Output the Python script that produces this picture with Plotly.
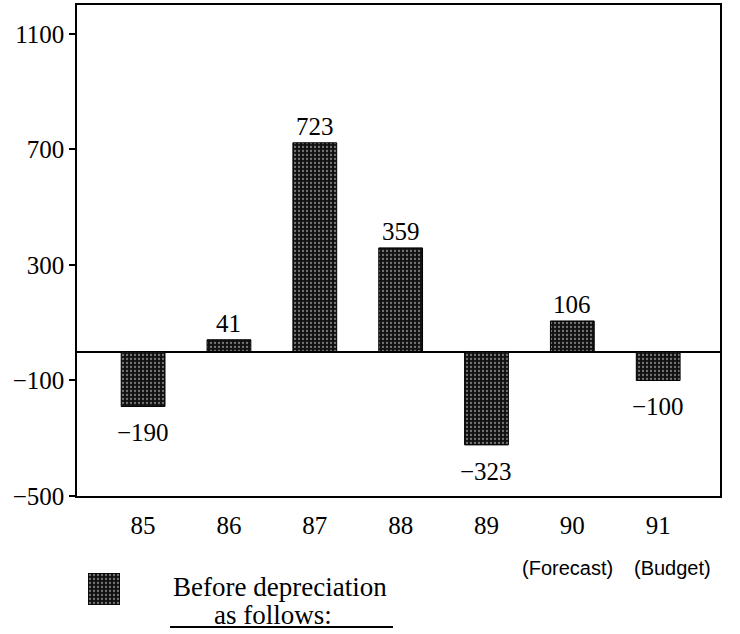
import plotly.graph_objects as go

years = ["85", "86", "87", "88", "89", "90", "91"]
values = [-190, 41, 723, 359, -323, 106, -100]
y_ticks = [-500, -100, 300, 700, 1100]
notes = ["(Forecast)", "(Budget)"]
legend_lines = ["Before depreciation", "as follows:"]

serif = "Liberation Serif, Times New Roman, serif"
sans = "Liberation Sans, Arial, sans-serif"

def fmt(v):
    return str(v).replace("-", "\u2212")

pattern = dict(shape=".", fgcolor="#dddddd", bgcolor="#111111", size=4, solidity=0.25, fillmode="overlay")

fig = go.Figure()
fig.add_trace(go.Bar(
    x=list(range(len(years))), y=values, width=0.51,
    marker=dict(color="#111111", line=dict(color="black", width=1), pattern=pattern),
    showlegend=False, xaxis="x", yaxis="y",
))
# legend swatch
fig.add_trace(go.Bar(
    x=[0], y=[1], width=1,
    marker=dict(color="#111111", line=dict(color="black", width=1), pattern=pattern),
    showlegend=False, xaxis="x2", yaxis="y2", hoverinfo="skip",
))

# value labels
for i, v in enumerate(values):
    fig.add_annotation(
        x=i, y=v, xref="x", yref="y", text=fmt(v), showarrow=False,
        xanchor="center", yanchor="bottom" if v >= 0 else "top",
        yshift=1 if v >= 0 else -11,
        font=dict(family=serif, size=25, color="black"),
    )

W, H = 740, 634
l, r, t, b = 77, 20, 5, 5
ph = H - t - b
pw = W - l - r
def py(ypix):
    return (H - b - ypix) / ph
def px(xpix):
    return (xpix - l) / pw

fig.update_layout(
    width=W, height=H,
    margin=dict(l=l, r=r, t=t, b=b, autoexpand=False),
    plot_bgcolor="white", paper_bgcolor="white",
    xaxis=dict(
        domain=[0, 1], range=[-0.77, 6.72],
        tickvals=list(range(len(years))), ticktext=years,
        tickfont=dict(family=serif, size=25, color="black"),
        showline=True, mirror=True, linecolor="black", linewidth=1.5,
        showgrid=False, zeroline=False, ticks="", ticklabelstandoff=6,
        anchor="y", automargin=False,
    ),
    yaxis=dict(
        domain=[py(496), 1], range=[-500, 1200],
        tickvals=y_ticks, ticktext=[fmt(v) for v in y_ticks],
        tickfont=dict(family=serif, size=25, color="black"),
        showline=True, mirror=True, linecolor="black", linewidth=1.5,
        showgrid=False, zeroline=True, zerolinecolor="black", zerolinewidth=2,
        ticks="outside", ticklen=6, tickcolor="black", tickwidth=1.5,
        anchor="x", automargin=False,
    ),
    xaxis2=dict(domain=[px(88), px(120)], range=[-0.5, 0.5], visible=False, anchor="y2"),
    yaxis2=dict(domain=[py(605), py(573)], range=[0, 1], visible=False, anchor="x2"),
)

def note(xp, yp, txt, fam, size):
    fig.add_annotation(x=px(xp), y=py(yp), xref="paper", yref="paper", text=txt,
                       xanchor="center", yanchor="middle", showarrow=False,
                       font=dict(family=fam, size=size, color="black"))

note(567, 568, notes[0], sans, 20)
note(672, 568, notes[1], sans, 20)
note(280, 587, legend_lines[0], serif, 27)
note(273, 615, legend_lines[1], serif, 27)
fig.add_shape(type="line", xref="paper", yref="paper", x0=px(170), x1=px(393),
              y0=py(627), y1=py(627), line=dict(color="black", width=2))

fig.write_html("out.html")
